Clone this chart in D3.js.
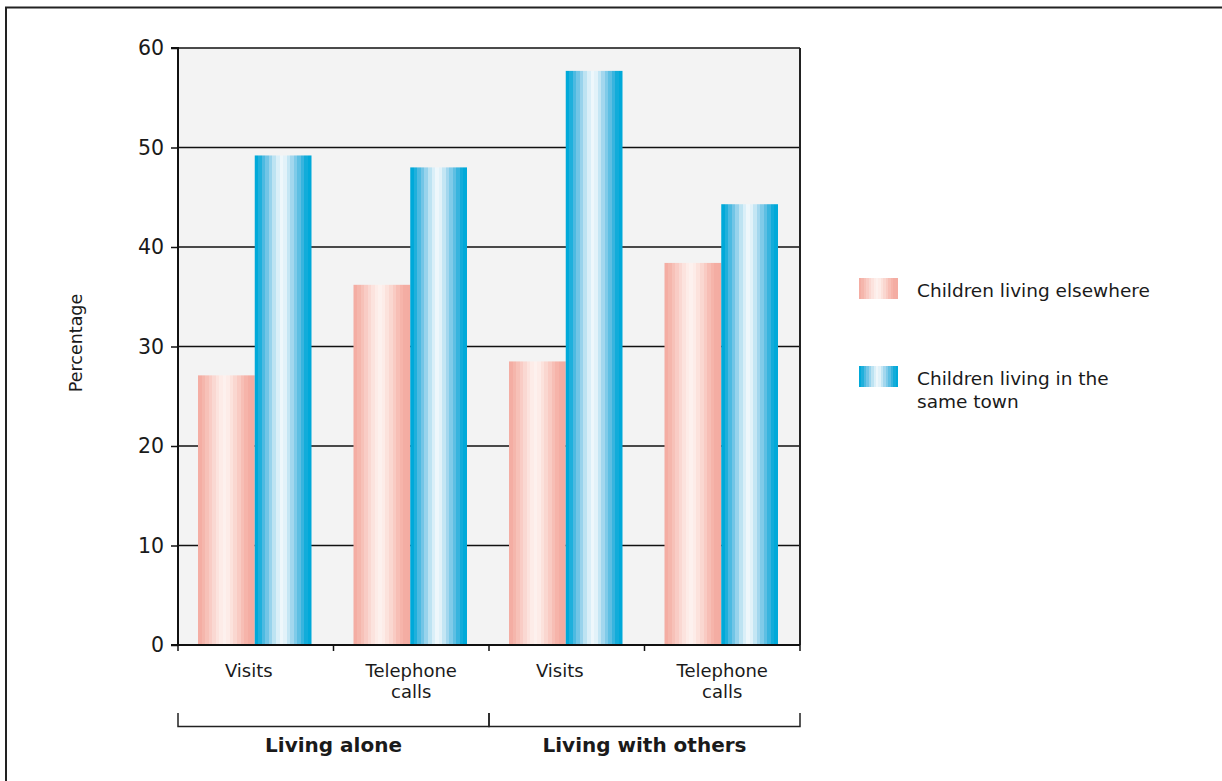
<!DOCTYPE html>
<html>
<head>
<meta charset="utf-8">
<script src="https://cdn.jsdelivr.net/npm/d3@7"></script>
<style>
  html, body { margin: 0; padding: 0; background: #fff; }
  svg { display: block; }
  text { font-family: "DejaVu Sans", "Open Sans", sans-serif; fill: #1a1a1a; }
</style>
</head>
<body>
<svg id="chart" width="1222" height="781"></svg>
<script>
// ---- Data ----
const groups = ["Living alone", "Living with others"];
const categories = ["Visits", "Telephone calls", "Visits", "Telephone calls"];
const categoryGroup = [0, 0, 1, 1];
const seriesNames = ["Children living elsewhere", "Children living in the same town"];
const elsewhere = [27.1, 36.2, 28.5, 38.4];
const sameTown = [49.2, 48.0, 57.7, 44.3];
const yTicks = [0, 10, 20, 30, 40, 50, 60];

// ---- Layout ----
const svg = d3.select("#chart");
const plot = { left: 178, right: 800, top: 48, bottom: 645 };

const x = d3.scaleBand().domain(d3.range(categories.length))
  .range([plot.left, plot.right]).paddingInner(0).paddingOuter(0);
const inner = d3.scaleBand().domain([0, 1]).range([20, x.bandwidth() - 22]).padding(0);
const y = d3.scaleLinear().domain([0, 60]).range([plot.bottom, plot.top]);

// ---- Gradients (banded) ----
const defs = svg.append("defs");
function bandGrad(id, cols) {
  const g = defs.append("linearGradient").attr("id", id).attr("x1", 0).attr("x2", 1).attr("y1", 0).attr("y2", 0);
  const n = cols.length;
  cols.forEach((c, i) => {
    g.append("stop").attr("offset", i / n).attr("stop-color", c);
    g.append("stop").attr("offset", (i + 1) / n).attr("stop-color", c);
  });
}
const blueCols = ["#00a9d9", "#1fb0dc", "#4dbae1", "#72c5e6", "#98d3ec", "#bde3f2", "#daeff8", "#eef7fb",
                  "#e2f2f9", "#c4e6f4", "#a3d7ee", "#80cbe9", "#5ebfe3", "#38b4de", "#12acda", "#00a9d9"];
const pinkCols = ["#f4ada3", "#f5b6ac", "#f7c1b8", "#f9ccc5", "#fad8d2", "#fce3de", "#fdece8", "#fdf1ee",
                  "#fdece8", "#fce2dc", "#fad7d0", "#f9cbc3", "#f7beb5", "#f6b4aa", "#f4ada3", "#f4aca2"];
bandGrad("gBlue", blueCols);
bandGrad("gPink", pinkCols);

// ---- Frame ----
svg.append("path").attr("d", "M6,781 V7.5 H1222").attr("fill", "none").attr("stroke", "#222").attr("stroke-width", 2);

// ---- Plot background ----
svg.append("rect").attr("x", plot.left).attr("y", plot.top)
  .attr("width", plot.right - plot.left).attr("height", plot.bottom - plot.top).attr("fill", "#f3f3f3");

// ---- Gridlines ----
svg.append("g").selectAll("line").data(yTicks.filter(d => d > 0)).join("line")
  .attr("x1", plot.left).attr("x2", plot.right)
  .attr("y1", d => y(d)).attr("y2", d => y(d))
  .attr("stroke", "#111").attr("stroke-width", 1.5);

// ---- Bars ----
const barG = svg.append("g");
categories.forEach((c, i) => {
  [elsewhere[i], sameTown[i]].forEach((v, s) => {
    barG.append("rect")
      .attr("x", x(i) + inner(s))
      .attr("y", y(v))
      .attr("width", inner.bandwidth())
      .attr("height", y(0) - y(v))
      .attr("fill", s === 0 ? "url(#gPink)" : "url(#gBlue)");
  });
});

// ---- Right border of plot ----
svg.append("line").attr("x1", plot.right).attr("x2", plot.right).attr("y1", plot.top).attr("y2", plot.bottom)
  .attr("stroke", "#222").attr("stroke-width", 2);

// ---- Y axis ----
const yAxis = d3.axisLeft(y).tickValues(yTicks).tickSize(7).tickPadding(7).tickFormat(d3.format("d"));
const yg = svg.append("g").attr("transform", `translate(${plot.left},0)`).call(yAxis);
yg.select(".domain").attr("stroke", "#111").attr("stroke-width", 2).attr("d", `M-7,${plot.top}H0V${plot.bottom}H-7`);
yg.selectAll(".tick line").attr("stroke", "#111").attr("stroke-width", 1.5);
yg.selectAll(".tick text").style("font-size", "20.5px").attr("fill", "#1a1a1a")
  .style("font-family", '"DejaVu Sans", "Open Sans", sans-serif');

// ---- X axis (category ticks) ----
const edges = d3.range(categories.length + 1).map(i => i < categories.length ? x(i) : x(categories.length - 1) + x.bandwidth());
const xg = svg.append("g");
xg.append("line").attr("x1", plot.left).attr("x2", plot.right).attr("y1", plot.bottom).attr("y2", plot.bottom)
  .attr("stroke", "#111").attr("stroke-width", 2);
xg.selectAll("line.tk").data(edges).join("line").attr("class", "tk")
  .attr("x1", d => d).attr("x2", d => d).attr("y1", plot.bottom).attr("y2", plot.bottom + 6)
  .attr("stroke", "#111").attr("stroke-width", 1.5);

// Category labels (each line its own text); single-word labels sit slightly left as in the original
categories.forEach((c, i) => {
  const words = c === "Telephone calls" ? ["Telephone", "calls"] : [c];
  const cx = x(i) + x.bandwidth() / 2 + (words.length === 1 ? -7 : 0);
  words.forEach((w, k) => {
    svg.append("text").attr("x", cx).attr("y", 677 + k * 21)
      .attr("text-anchor", "middle").style("font-size", "18px").text(w);
  });
});

// Group brackets
groups.forEach((g, gi) => {
  const idx = categoryGroup.map((v, i) => v === gi ? i : -1).filter(i => i >= 0);
  const x0 = x(idx[0]);
  const x1 = x(idx[idx.length - 1]) + x.bandwidth();
  svg.append("path").attr("d", `M${x0},713V726.5H${x1}V713`).attr("fill", "none")
    .attr("stroke", "#222").attr("stroke-width", 1.5);
  svg.append("text").attr("x", (x0 + x1) / 2).attr("y", 752).attr("text-anchor", "middle")
    .style("font-size", "20px").style("font-weight", "bold").text(g);
});

// Y label
svg.append("text").attr("transform", "translate(82,343) rotate(-90)").attr("text-anchor", "middle")
  .style("font-size", "17.5px").text("Percentage");

// ---- Legend ----
const legendData = [
  { fill: "url(#gPink)", y: 278, lines: ["Children living elsewhere"] },
  { fill: "url(#gBlue)", y: 366, lines: ["Children living in the", "same town"] }
];
legendData.forEach(d => {
  svg.append("rect").attr("x", 859).attr("y", d.y).attr("width", 39).attr("height", 21).attr("fill", d.fill);
  d.lines.forEach((l, k) => {
    svg.append("text").attr("x", 917).attr("y", d.y + 19 + k * 23).style("font-size", "18.5px").text(l);
  });
});
</script>
</body>
</html>
